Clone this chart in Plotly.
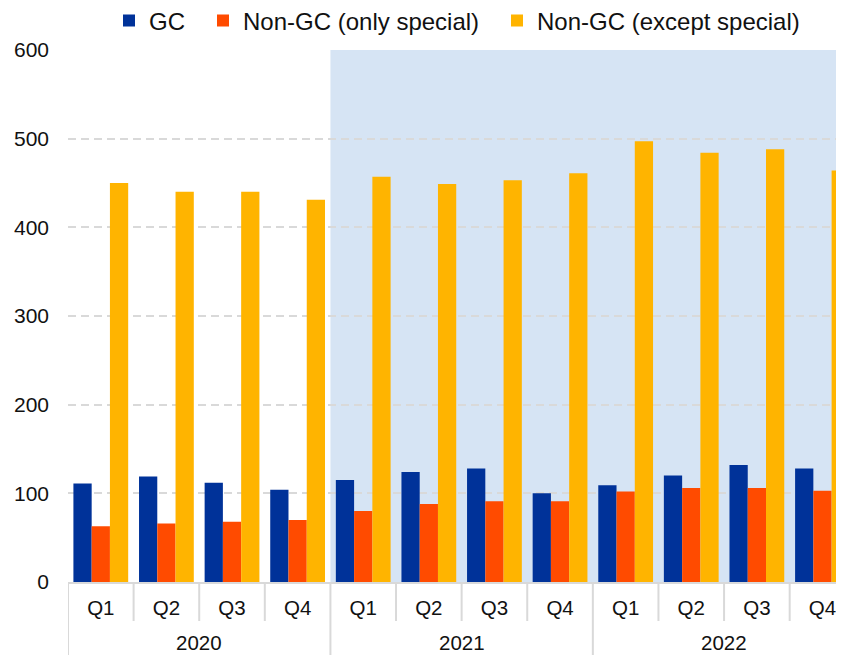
import plotly.graph_objects as go

years = ["2020"] * 4 + ["2021"] * 4 + ["2022"] * 4
quarters = ["Q1", "Q2", "Q3", "Q4"] * 3

gc = [111, 119, 112, 104, 115, 124, 128, 100, 109, 120, 132, 128]
non_gc_special = [63, 66, 68, 70, 80, 88, 91, 91, 102, 106, 106, 103]
non_gc_except = [450, 440, 440, 431, 457, 449, 453, 461, 497, 484, 488, 464]

series_names = ["GC", "Non-GC (only special)", "Non-GC (except special)"]
series_colors = ["#003299", "#FF4B00", "#FFB400"]
series_values = [gc, non_gc_special, non_gc_except]

shaded_from_year = "2021"

font_family = "Liberation Sans, Arial, sans-serif"
W, H = 844, 647          # page body adds an 8px offset
M_L, M_T, M_B = 60, 42, 73
PLOT_H = H - M_T - M_B
AXIS_GREY = "#D9D9D9"
TXT = "#111111"

cats = [f"{y} {q}" for y, q in zip(years, quarters)]

legend_ids = ["legend", "legend2", "legend3"]
legend_x_px = [101, 195, 489]

fig = go.Figure()
for name, color, vals, lg in zip(series_names, series_colors, series_values, legend_ids):
    fig.add_trace(go.Bar(
        x=cats, y=vals, name=name, legend=lg,
        marker=dict(color=color, line=dict(width=0)),
    ))

# shaded period
first_shaded = years.index(shaded_from_year)
fig.add_shape(type="rect", xref="x", yref="y", x0=first_shaded - 0.5, x1=len(cats) + 0.5,
              y0=0, y1=600, fillcolor="#D6E4F4", line=dict(width=0), layer="below")

# category boundary ticks and year dividers
for i in range(len(cats) + 1):
    is_year_edge = i == 0 or i == len(cats) or years[i] != years[i - 1]
    fig.add_shape(type="line", xref="x", yref="paper", x0=i - 0.5, x1=i - 0.5,
                  y0=0, y1=(-1.0 if is_year_edge else -39 / PLOT_H),
                  line=dict(color=AXIS_GREY, width=2), layer="above")

# year group labels
for yr in dict.fromkeys(years):
    idx = [i for i, v in enumerate(years) if v == yr]
    fig.add_annotation(x=sum(idx) / len(idx), xref="x", y=-(634 - (H - M_B)) / PLOT_H,
                       yref="paper", text=yr, showarrow=False, yanchor="middle",
                       font=dict(size=20.5, color=TXT, family=font_family))

legend_common = dict(orientation="h", xref="container", yref="container",
                     xanchor="left", yanchor="middle",
                     font=dict(size=24, family=font_family, color=TXT),
                     bgcolor="rgba(0,0,0,0)", borderwidth=0)
layout_legends = {}
for lg, lx in zip(legend_ids, legend_x_px):
    layout_legends[lg] = dict(legend_common, x=lx / W, y=1 - 13 / H)

fig.update_layout(
    width=W, height=H,
    margin=dict(l=M_L, r=0, t=M_T, b=M_B, autoexpand=False),
    paper_bgcolor="white", plot_bgcolor="white",
    barmode="group", bargap=0.165, bargroupgap=0,
    font=dict(family=font_family, size=20, color=TXT),
    showlegend=True,
    **layout_legends,
)

fig.update_xaxes(
    type="category", categoryorder="array", categoryarray=cats,
    tickvals=cats, ticktext=quarters,
    range=[-0.5, 11.45], automargin=False,
    showline=True, linecolor=AXIS_GREY, linewidth=2,
    ticks="", ticklabelstandoff=6,
    tickfont=dict(size=20.5, color=TXT),
    showgrid=False,
)
fig.update_yaxes(
    range=[0, 600], tickvals=[0, 100, 200, 300, 400, 500, 600], automargin=False,
    showgrid=True, gridcolor=AXIS_GREY, gridwidth=1.5, griddash="8px,5px",
    zeroline=False, showline=False,
    tickfont=dict(size=21, color=TXT), ticks="", ticklabelstandoff=18,
)

fig.write_html("out.html", config={"responsive": False})
